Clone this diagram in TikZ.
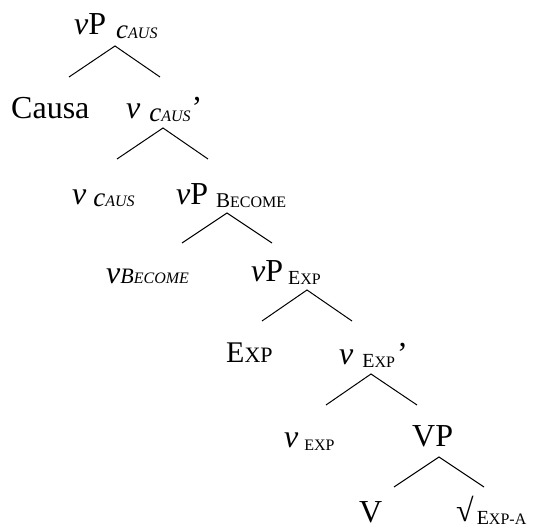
\documentclass[tikz,border=0pt]{standalone}
\usepackage{fontspec}
\setmainfont{Liberation Serif}
\newcommand{\mainsz}{\fontsize{32}{32}\selectfont}
% fake small caps: first letter size, rest size, first letter, rest
\newcommand{\fsc}[4]{{\fontsize{#1}{#1}\selectfont #3\fontsize{#2}{#2}\selectfont #4}}
\newcommand{\caus}{{\itshape\fontsize{27}{27}\selectfont c\fontsize{16}{16}\selectfont AUS}}
\tikzset{
  lbl/.style={anchor=base west, inner sep=0pt, font=\mainsz},
  branch/.style={draw=black, line width=1pt},
}

\begin{document}
\begin{tikzpicture}[x=1pt, y=-1pt]
  \useasboundingbox (0,0) rectangle (536,529);
  % labels
  \node[lbl] (vPcaus) at (74,35) {\textit{v}P\kern 10pt\raisebox{-4pt}{\caus}};
  \node[lbl] (causa) at (11,119) {Causa};
  \node[lbl] (vcausbar) at (126,119) {\textit{v}\kern 9pt\raisebox{-3pt}{\caus}\kern 1pt'};
  \node[lbl] (vcaus) at (72,205) {\textit{v}\kern 7pt\raisebox{-2pt}{\caus}};
  \node[lbl] (vPbecome) at (176,205) {\textit{v}P\kern 8pt\raisebox{-3pt}{\fsc{21}{16}{B}{ECOME}}};
  \node[lbl] (vbecome) at (106,284) {\textit{v}{\itshape\fsc{22}{16}{B}{ECOME}}};
  \node[lbl] (vPexp) at (251,282) {\textit{v}P\kern 5pt\raisebox{-3pt}{\fsc{20}{16}{E}{XP}}};
  \node[lbl] (exp) at (226,363) {\fsc{30}{22}{E}{XP}};
  \node[lbl] (vexpbar) at (339,365) {\textit{v}\kern 9pt\raisebox{-3pt}{\fsc{20}{16}{E}{XP}}\kern 2pt'};
  \node[lbl] (vexp) at (284,448) {\textit{v}\kern 6pt\raisebox{-3pt}{\fontsize{16}{16}\selectfont EXP}};
  \node[lbl] (VP) at (412,447) {VP};
  \node[lbl] (V) at (359,522) {V};
  \node[lbl] (root) at (456,521) {√\kern 3pt\raisebox{-3pt}{\fsc{20}{16}{E}{XP-A}}};
  % branch points
  \coordinate (vPcaus-b) at (115,46);
  \coordinate (causa-t) at (69,77);
  \coordinate (vcausbar-t) at (160,77);
  \coordinate (vcausbar-b) at (163,128);
  \coordinate (vcaus-t) at (117,159);
  \coordinate (vPbecome-t) at (208,159);
  \coordinate (vPbecome-b) at (227,213);
  \coordinate (vbecome-t) at (182,243);
  \coordinate (vPexp-t) at (272,243);
  \coordinate (vPexp-b) at (307,290);
  \coordinate (exp-t) at (262,321);
  \coordinate (vexpbar-t) at (352,321);
  \coordinate (vexpbar-b) at (371,374);
  \coordinate (vexp-t) at (326,405);
  \coordinate (VP-t) at (417,405);
  \coordinate (VP-b) at (439,457);
  \coordinate (V-t) at (394,487);
  \coordinate (root-t) at (484,487);
  % branches
  \draw[branch] (causa-t) -- (vPcaus-b) -- (vcausbar-t);
  \draw[branch] (vcaus-t) -- (vcausbar-b) -- (vPbecome-t);
  \draw[branch] (vbecome-t) -- (vPbecome-b) -- (vPexp-t);
  \draw[branch] (exp-t) -- (vPexp-b) -- (vexpbar-t);
  \draw[branch] (vexp-t) -- (vexpbar-b) -- (VP-t);
  \draw[branch] (V-t) -- (VP-b) -- (root-t);
\end{tikzpicture}
\end{document}
